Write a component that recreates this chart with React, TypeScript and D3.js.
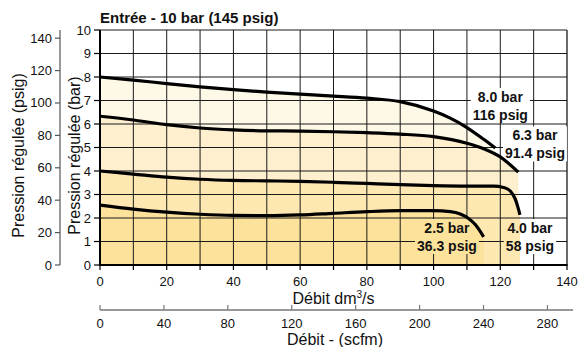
import React, { useMemo } from "react";
import * as d3 from "d3";

// ---- data (dm3/s, bar) ----
const curve80: [number, number][] = [
  [0, 8.0], [10, 7.87], [20, 7.72], [30, 7.58], [40, 7.46], [50, 7.36], [60, 7.27],
  [70, 7.19], [80, 7.1], [90, 6.95], [100, 6.55], [105, 6.25], [110, 5.85], [115, 5.35], [118.5, 4.98],
];
const curve63: [number, number][] = [
  [0, 6.33], [10, 6.17], [20, 5.97], [30, 5.83], [40, 5.75], [50, 5.71], [60, 5.7],
  [70, 5.67], [80, 5.63], [90, 5.57], [100, 5.46], [110, 5.18], [115, 4.95], [120, 4.6], [125.4, 3.95],
];
const curve40: [number, number][] = [
  [0, 4.0], [10, 3.87], [20, 3.74], [30, 3.65], [40, 3.6], [50, 3.58], [60, 3.56],
  [70, 3.52], [80, 3.47], [90, 3.42], [100, 3.38], [110, 3.36], [118, 3.36], [121, 3.3],
  [123, 3.15], [124.5, 2.8], [125.3, 2.45], [125.9, 2.13],
];
const curve25: [number, number][] = [
  [0, 2.55], [10, 2.38], [20, 2.25], [30, 2.16], [40, 2.11], [50, 2.1], [60, 2.13],
  [70, 2.2], [80, 2.27], [90, 2.31], [100, 2.31], [105, 2.27], [108, 2.17], [110.5, 1.98],
  [112.5, 1.72], [115, 1.2],
];

const seriesCurves = [curve80, curve63, curve40, curve25];
const seriesFills = ["#fef8e7", "#feefcf", "#fde8b2", "#fde29b"];
const seriesLabels: [string, string][] = [
  ["8.0 bar", "116 psig"],
  ["6.3 bar", "91.4 psig"],
  ["2.5 bar", "36.3 psig"],
  ["4.0 bar", "58 psig"],
];
// label anchors (dm3/s, bar) — centre of two-line block
const labelAnchors: [number, number][] = [
  [120, 6.77],
  [130.4, 5.13],
  [104, 1.19],
  [128.9, 1.19],
];

const xTicks = [0, 20, 40, 60, 80, 100, 120, 140];
const xMinor = d3.range(0, 141, 10);
const barTicks = d3.range(0, 11, 1);
const psigTicks = [0, 20, 40, 60, 80, 100, 120, 140];
const scfmTicks = [0, 40, 80, 120, 160, 200, 240, 280];

const title = "Entrée - 10 bar (145 psig)";
const FONT = "'Liberation Sans', Arial, Helvetica, sans-serif";

function measure(text: string, font: string): number {
  if (typeof document === "undefined") return text.length * 7;
  const c = document.createElement("canvas");
  const ctx = c.getContext("2d")!;
  ctx.font = font;
  return ctx.measureText(text).width;
}

export default function App() {
  const W = 582, H = 347;
  const x = d3.scaleLinear().domain([0, 140]).range([100, 567]);
  const y = d3.scaleLinear().domain([0, 10]).range([265, 30]);
  const psig = d3.scaleLinear().domain([0, 145.04]).range([265, 30]);
  const scfm = d3.scaleLinear().domain([0, 296]).range([100, 573]);

  const line = d3.line<[number, number]>()
    .x((d) => x(d[0])).y((d) => y(d[1])).curve(d3.curveMonotoneX);
  const area = d3.area<[number, number]>()
    .x((d) => x(d[0])).y1((d) => y(d[1])).y0(y(0)).curve(d3.curveMonotoneX);

  const labelFont = `bold 14px ${FONT}`;
  const boxes = useMemo(() =>
    seriesLabels.map((lines, i) => {
      const [ax, ay] = labelAnchors[i];
      const cx = x(ax), cy = y(ay);
      const w = Math.max(...lines.map((t) => measure(t, labelFont)));
      return { cx, cy, x0: cx - w / 2 - 2, x1: cx + w / 2 + 2, y0: cy - 18, y1: cy + 17, lines };
    }), []);

  return (
    <svg width={W} height={H} style={{ position: "absolute", left: 0, top: 0 }} fontFamily={FONT}>
      <defs>
        <mask id="gridMask">
          <rect x={0} y={0} width={W} height={H} fill="white" />
          {boxes.map((b, i) => (
            <rect key={i} x={b.x0} y={b.y0} width={b.x1 - b.x0} height={b.y1 - b.y0} fill="black" />
          ))}
        </mask>
      </defs>
      <rect x={0} y={0} width={W} height={H} fill="white" />

      {/* fills */}
      {seriesCurves.map((c, i) => (
        <path key={i} d={area(c) || ""} fill={seriesFills[i]} />
      ))}

      {/* grid */}
      <g mask="url(#gridMask)" stroke="#1a1a1a" strokeWidth={1}>
        {xMinor.filter((v) => v > 0 && v < 140).map((v) => (
          <line key={"v" + v} x1={x(v)} x2={x(v)} y1={y(10)} y2={y(0)} />
        ))}
        {barTicks.filter((v) => v > 0).map((v) => (
          <line key={"h" + v} x1={x(0)} x2={x(140)} y1={y(v)} y2={y(v)} />
        ))}
        <line x1={x(140)} x2={x(140)} y1={y(10)} y2={y(0)} strokeWidth={1.3} />
      </g>

      {/* curves */}
      {seriesCurves.map((c, i) => (
        <path key={i} d={line(c) || ""} fill="none" stroke="#000" strokeWidth={3.2} />
      ))}

      {/* labels */}
      {boxes.map((b, i) => (
        <text key={i} textAnchor="middle" fontSize={14} fontWeight="bold" fill="#111">
          <tspan x={b.cx} y={b.cy - 4}>{b.lines[0]}</tspan>
          <tspan x={b.cx} y={b.cy + 14}>{b.lines[1]}</tspan>
        </text>
      ))}

      {/* borders */}
      <line x1={x(0)} x2={x(0)} y1={y(10)} y2={y(0) + 1} stroke="#000" strokeWidth={2} />
      <line x1={x(0) - 1} x2={x(140) + 0.5} y1={y(0)} y2={y(0)} stroke="#000" strokeWidth={2} />

      {/* bar axis */}
      {barTicks.map((v) => (
        <g key={"b" + v}>
          <line x1={x(0) - 6} x2={x(0)} y1={y(v)} y2={y(v)} stroke="#000" strokeWidth={1.2} />
          <text x={x(0) - 9} y={y(v) + 4.5} textAnchor="end" fontSize={13} fill="#111">{v}</text>
        </g>
      ))}
      <text transform={`translate(80,${(y(0) + y(10)) / 2 + 8}) rotate(-90)`} textAnchor="middle" fontSize={16} fill="#111">
        Pression régulée (bar)
      </text>

      {/* psig axis */}
      <line x1={60} x2={60} y1={psig(145.04)} y2={psig(0)} stroke="#555" strokeWidth={1.2} />
      {psigTicks.map((v) => (
        <g key={"p" + v}>
          <line x1={55} x2={60} y1={psig(v)} y2={psig(v)} stroke="#555" strokeWidth={1.2} />
          <text x={52} y={psig(v) + 4.5} textAnchor="end" fontSize={13} fill="#111">{v}</text>
        </g>
      ))}
      <text transform={`translate(24,${(y(0) + y(10)) / 2 + 8}) rotate(-90)`} textAnchor="middle" fontSize={16} fill="#111">
        Pression régulée (psig)
      </text>

      {/* x axis dm3/s */}
      {xMinor.map((v) => (
        <line key={"xt" + v} x1={x(v)} x2={x(v)} y1={y(0)} y2={y(0) + 5} stroke="#000" strokeWidth={1.2} />
      ))}
      {xTicks.map((v) => (
        <text key={"xl" + v} x={x(v)} y={286} textAnchor="middle" fontSize={13} fill="#111">{v}</text>
      ))}
      <text x={x(70)} y={304} textAnchor="middle" fontSize={16} fill="#111">
        Débit dm<tspan dy={-6} fontSize={10}>3</tspan><tspan dy={6}>/s</tspan>
      </text>

      {/* scfm axis */}
      <line x1={scfm(0)} x2={scfm(296)} y1={310} y2={310} stroke="#777" strokeWidth={1.5} />
      {scfmTicks.map((v) => (
        <g key={"s" + v}>
          <line x1={scfm(v)} x2={scfm(v)} y1={305} y2={310} stroke="#777" strokeWidth={1.2} />
          <text x={scfm(v)} y={328} textAnchor="middle" fontSize={13} fill="#111">{v}</text>
        </g>
      ))}
      <text x={335} y={345} textAnchor="middle" fontSize={16} fill="#111">Débit - (scfm)</text>

      {/* title */}
      <text x={100} y={23} fontSize={15} fontWeight="bold" fill="#111">{title}</text>
    </svg>
  );
}
